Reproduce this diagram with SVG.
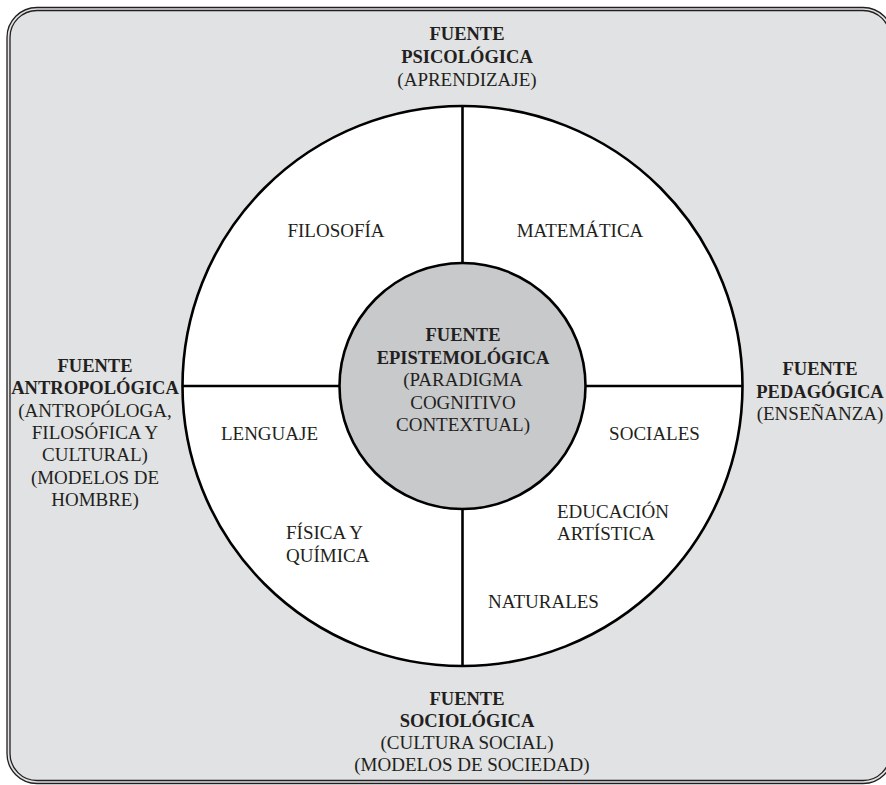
<svg xmlns="http://www.w3.org/2000/svg" width="886" height="785" viewBox="0 0 886 785">
<style>
.frame{fill:none;stroke:#231f20;stroke-width:1.3}
.panel{fill:#e1e2e3;stroke:#231f20;stroke-width:1.3}
.ring{fill:#ffffff;stroke:#000000;stroke-width:2.6}
.core{fill:#c8c9cb;stroke:#000000;stroke-width:2.6}
.div{stroke:#000000;stroke-width:2.6;fill:none}
text{font-family:"Liberation Serif","Times New Roman",serif;fill:#231f20;text-anchor:middle}
.b{font-weight:bold;font-size:18.5px}
.r{font-size:19px}
.l{text-anchor:start}
</style>
<g id="background">
<rect x="7" y="7.5" width="886" height="776" rx="30" ry="30" class="panel"/>
<rect x="10" y="10.5" width="880" height="770" rx="27" ry="27" class="frame"/>
</g>
<g id="outer-ring">
<circle cx="462.5" cy="386" r="280" class="ring"/>
</g>
<g id="dividers">
<line x1="462.5" y1="106" x2="462.5" y2="263" class="div"/>
<line x1="462.5" y1="509" x2="462.5" y2="666" class="div"/>
<line x1="182.5" y1="386" x2="339.5" y2="386" class="div"/>
<line x1="585.5" y1="386" x2="742.5" y2="386" class="div"/>
</g>
<g id="fuente-epistemologica">
<circle cx="462.5" cy="386" r="123" class="core"/>
<text x="463" y="341" class="b">FUENTE</text>
<text x="463" y="363.5" class="b">EPISTEMOLÓGICA</text>
<text x="463" y="386" class="r">(PARADIGMA</text>
<text x="463" y="408.5" class="r">COGNITIVO</text>
<text x="463" y="431" class="r">CONTEXTUAL)</text>
</g>
<g id="filosofia"><text x="336" y="237" class="r">FILOSOFÍA</text></g>
<g id="matematica"><text x="580" y="237" class="r">MATEMÁTICA</text></g>
<g id="lenguaje"><text x="269.5" y="440" class="r">LENGUAJE</text></g>
<g id="sociales"><text x="654.5" y="440" class="r">SOCIALES</text></g>
<g id="fisica-quimica">
<text x="286" y="539" class="r l">FÍSICA Y</text>
<text x="286" y="561.5" class="r l">QUÍMICA</text>
</g>
<g id="educacion-artistica">
<text x="557" y="517.5" class="r l">EDUCACIÓN</text>
<text x="557" y="540" class="r l">ARTÍSTICA</text>
</g>
<g id="naturales"><text x="543.5" y="607.5" class="r">NATURALES</text></g>
<g id="fuente-psicologica">
<text x="467" y="39.5" class="b">FUENTE</text>
<text x="467" y="63" class="b">PSICOLÓGICA</text>
<text x="467" y="86" class="r">(APRENDIZAJE)</text>
</g>
<g id="fuente-sociologica">
<text x="467" y="705" class="b">FUENTE</text>
<text x="467" y="727" class="b">SOCIOLÓGICA</text>
<text x="467" y="749" class="r">(CULTURA SOCIAL)</text>
<text x="472" y="771" class="r">(MODELOS DE SOCIEDAD)</text>
</g>
<g id="fuente-antropologica">
<text x="95" y="372" class="b">FUENTE</text>
<text x="95" y="394.3" class="b">ANTROPOLÓGICA</text>
<text x="95" y="416.6" class="r">(ANTROPÓLOGA,</text>
<text x="95" y="439" class="r">FILOSÓFICA Y</text>
<text x="95" y="461.3" class="r">CULTURAL)</text>
<text x="95" y="483.6" class="r">(MODELOS DE</text>
<text x="95" y="506" class="r">HOMBRE)</text>
</g>
<g id="fuente-pedagogica">
<text x="820" y="375" class="b">FUENTE</text>
<text x="820" y="397.5" class="b">PEDAGÓGICA</text>
<text x="820" y="420" class="r">(ENSEÑANZA)</text>
</g>
</svg>
